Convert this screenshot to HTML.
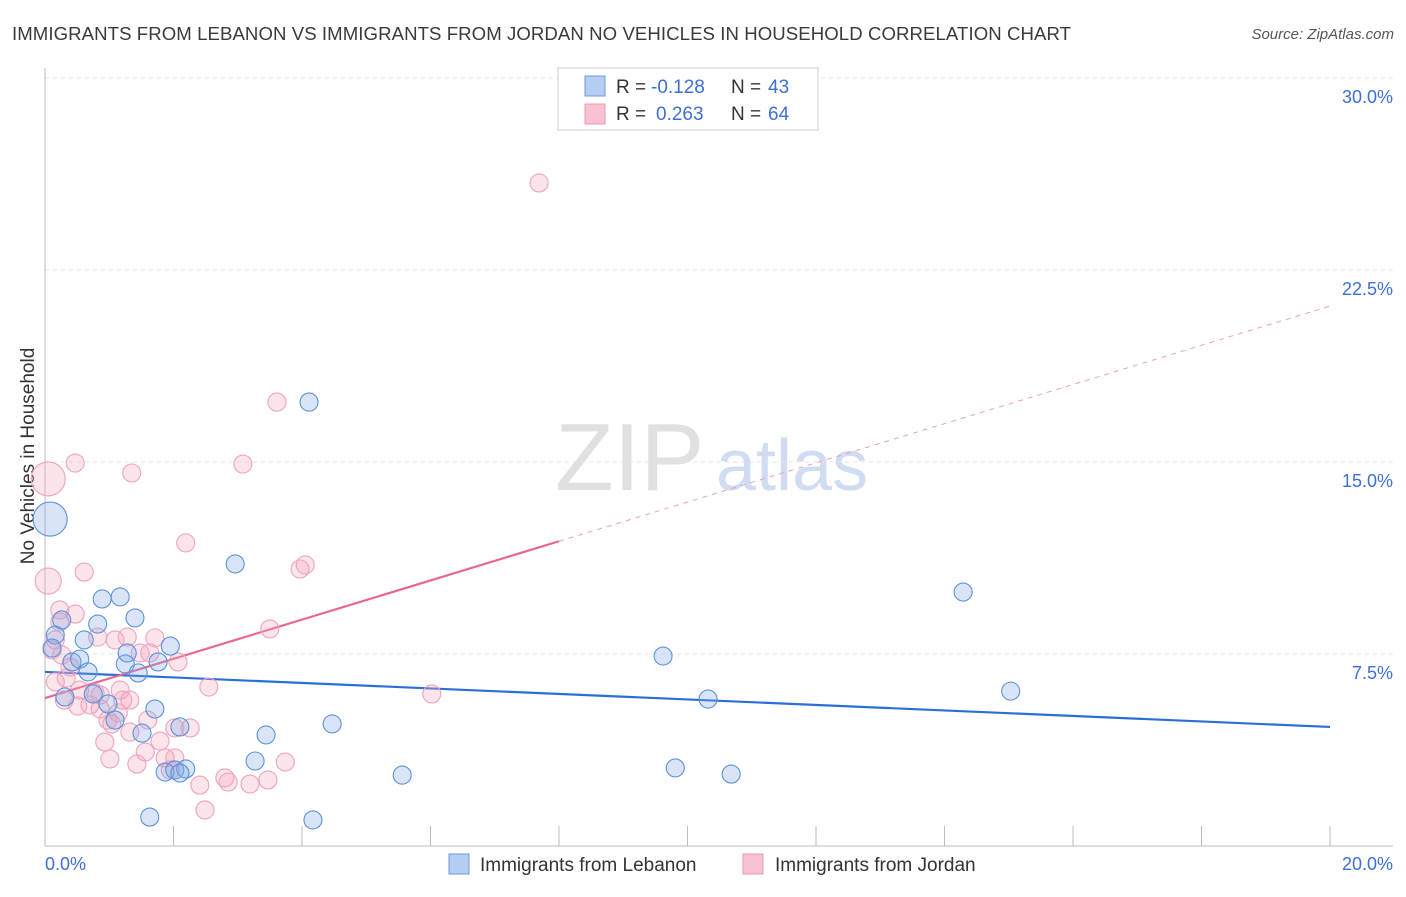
<!DOCTYPE html>
<html><head><meta charset="utf-8"><style>
body{margin:0;background:#fff;font-family:"Liberation Sans",sans-serif;}
svg text{font-family:"Liberation Sans",sans-serif;}
</style></head><body>
<svg id="c" width="1406" height="892">
<text x="12" y="40" font-size="18.6" fill="#3a3a3a" textLength="1059">IMMIGRANTS FROM LEBANON VS IMMIGRANTS FROM JORDAN NO VEHICLES IN HOUSEHOLD CORRELATION CHART</text>
<text x="1394" y="39" font-size="15" fill="#555" font-style="italic" text-anchor="end">Source: ZipAtlas.com</text>
<text transform="translate(34,456) rotate(-90)" font-size="19" fill="#333" text-anchor="middle">No Vehicles in Household</text>
<g><text x="555" y="490" font-size="96" font-family="Liberation Serif" fill="#e0e0e0">ZIP</text><text x="716" y="490" font-size="72" fill="#cfdcf2">atlas</text></g>
<g id="grid"></g><g id="trend"></g><g id="pts"></g>
<g>
<rect x="558" y="68" width="260" height="62" fill="#fff" stroke="#ccc"/>
<rect x="585" y="76" width="20" height="20" fill="#b5cdf2" stroke="#6a9ae0"/>
<rect x="585" y="104" width="20" height="20" fill="#f9c2d3" stroke="#eb98b3"/>
<text x="616" y="93" font-size="19" fill="#333">R =</text>
<text x="651" y="93" font-size="19" fill="#3d6fd6">-0.128</text>
<text x="731" y="93" font-size="19" fill="#333">N =</text>
<text x="768" y="93" font-size="19" fill="#3d6fd6">43</text>
<text x="616" y="120" font-size="19" fill="#333">R =</text>
<text x="656" y="120" font-size="19" fill="#3d6fd6">0.263</text>
<text x="731" y="120" font-size="19" fill="#333">N =</text>
<text x="768" y="120" font-size="19" fill="#3d6fd6">64</text>
</g>
<g>
<rect x="449" y="854" width="20" height="20" fill="#b5cdf2" stroke="#6a9ae0"/>
<text x="480" y="871" font-size="19" fill="#333">Immigrants from Lebanon</text>
<rect x="743" y="854" width="20" height="20" fill="#f9c2d3" stroke="#eb98b3"/>
<text x="775" y="871" font-size="19" fill="#333">Immigrants from Jordan</text>
</g>
</svg>
<script>
const yTicks=[7.5,15,22.5,30];
const yTickLabels=["7.5%","15.0%","22.5%","30.0%"];
const xTickLabels=["0.0%","20.0%"];
const lebX=[.08,.16,.11,.26,.42,.54,.67,.31,.61,.82,.89,1.17,1.40,1.95,1.76,1.25,1.45,1.28,.75,1.09,.98,1.71,1.51,2.10,1.87,2.02,2.19,2.10,1.63,2.96,3.44,3.27,4.47,4.11,4.17,5.56,9.62,10.32,9.81,10.68,14.29,15.03];
const lebY=[12.77,8.24,7.73,8.83,7.19,7.30,6.80,5.82,8.05,8.67,9.65,9.73,8.91,7.81,7.19,7.11,6.76,7.54,5.94,4.92,5.55,5.35,4.41,4.65,2.89,2.97,3.01,2.85,1.13,11.02,4.34,3.32,4.77,17.34,1.02,2.77,7.42,5.74,3.05,2.81,9.92,6.05];
const jorX=[.05,.05,.11,.16,.23,.47,1.35,.61,.47,.26,.39,.33,.16,.54,.78,.86,.82,1.09,1.28,1.71,1.48,2.07,1.21,.98,1.14,.86,1.04,1.32,.93,1.01,1.60,1.56,1.79,1.87,2.02,2.02,1.43,1.95,2.19,3.08,3.61,4.05,3.97,3.50,2.55,6.02,2.41,2.49,2.80,2.85,3.19,3.47,3.74,7.69,1.32,1.63,2.26,1.17,.30,.70,.23,.51];
const jorY=[14.34,10.35,7.66,8.05,8.75,14.96,14.57,10.70,9.06,7.46,6.99,6.56,6.41,6.09,5.98,5.90,8.16,8.05,8.16,8.13,7.54,7.19,5.70,4.92,5.20,5.35,4.77,4.45,4.06,3.40,4.92,3.67,4.10,3.44,3.44,4.61,3.20,2.97,11.84,14.92,17.34,10.98,10.82,8.48,6.21,5.94,2.38,1.41,2.66,2.50,2.42,2.58,3.28,25.90,5.70,7.54,4.61,6.09,5.70,5.51,9.22,5.47];
const lebTrend=[6.80,4.65];
const jorTrend=[5.78,21.09];
const NS='http://www.w3.org/2000/svg';
const sx=v=>45+v/20*1285, sy=v=>846-v/7.5*192;
function mk(t,a,p){const e=document.createElementNS(NS,t);for(const k in a)e.setAttribute(k,a[k]);p.appendChild(e);return e;}
const grid=document.getElementById('grid');
yTicks.forEach((t,i)=>{
 const l=mk('line',{x1:45,x2:1393,y1:sy(t),y2:sy(t),stroke:'#e6e6e6','stroke-dasharray':'4,4'},grid);
 
 
 const tx=mk('text',{x:1393,y:sy(t)+25,'font-size':18,fill:'#3d6fd6','text-anchor':'end'},grid);tx.textContent=yTickLabels[i];
 
 
});
mk('line',{x1:45,x2:45,y1:68,y2:846,stroke:'#bbb'},grid);
mk('line',{x1:45,x2:1393,y1:846,y2:846,stroke:'#bbb'},grid);
for(let i=1;i<=10;i++){const x=sx(i*2);mk('line',{x1:x,x2:x,y1:826,y2:846,stroke:'#bbb'},grid);}
let t0=mk('text',{x:45,y:870,'font-size':18,fill:'#3d6fd6'},grid);t0.textContent=xTickLabels[0];


let t1=mk('text',{x:1393,y:870,'font-size':18,fill:'#3d6fd6','text-anchor':'end'},grid);t1.textContent=xTickLabels[1];


const tr=document.getElementById('trend');
let b=mk('line',{x1:sx(0),y1:sy(lebTrend[0]),x2:sx(20),y2:sy(lebTrend[1]),stroke:'#2a6fd6','stroke-width':2.2},tr);


const jy=x=>jorTrend[0]+(jorTrend[1]-jorTrend[0])*x/20;
let p=mk('line',{x1:sx(0),y1:sy(jy(0)),x2:sx(8),y2:sy(jy(8)),stroke:'#e8678f','stroke-width':2.2},tr);


let pd=mk('line',{x1:sx(8),y1:sy(jy(8)),x2:sx(20),y2:sy(jy(20)),stroke:'#e8a0b8','stroke-width':1,'stroke-dasharray':'5,5'},tr);


const g=document.getElementById('pts');
jorX.forEach((x,i)=>{const r=i==0?17:(i==1?13:9);
 const c=mk('circle',{cx:sx(x),cy:sy(jorY[i]),r:r,fill:'rgba(246,165,190,0.3)',stroke:'#eda3bb','stroke-width':1.1},g);
 
 });
lebX.forEach((x,i)=>{const r=i==0?17:9;
 const c=mk('circle',{cx:sx(x),cy:sy(lebY[i]),r:r,fill:'rgba(130,170,230,0.3)',stroke:'#5a92dc','stroke-width':1.1},g);
 
 });
</script>
</body></html>
